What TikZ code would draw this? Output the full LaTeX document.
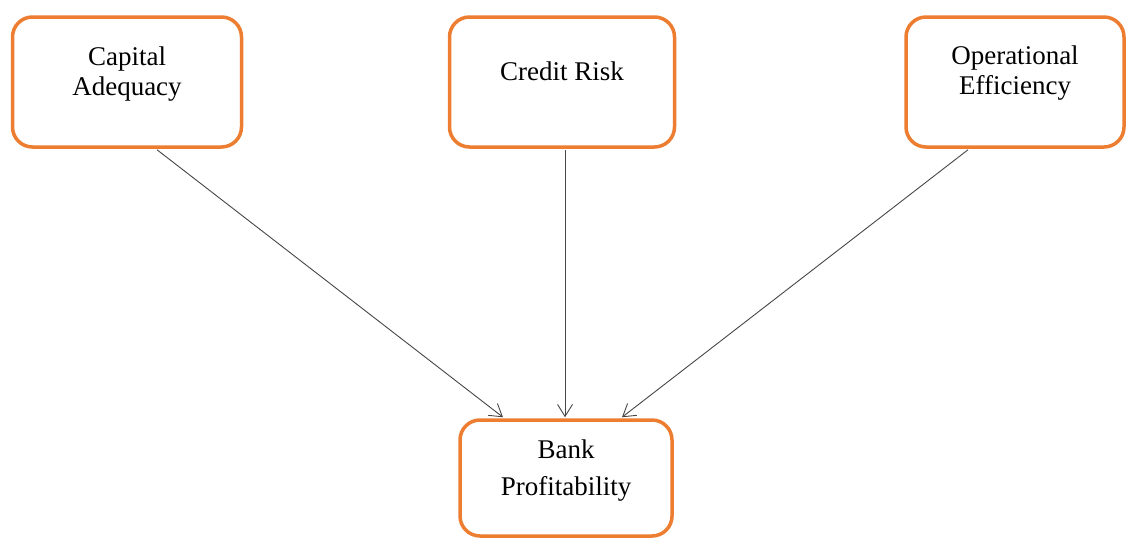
\documentclass[tikz,border=0pt]{standalone}
\usepackage{fontspec}
\setmainfont{Liberation Serif}
\usetikzlibrary{arrows.meta,calc}
\definecolor{boxorange}{RGB}{237,125,49}
\definecolor{arrowgray}{RGB}{70,70,70}
\tikzset{
  factorbox/.style={draw=boxorange, line width=3.5pt, rounded corners=20pt,
    fill=white, inner sep=0pt},
  boxtext/.style={align=center, font=\fontsize{27}{30}\selectfont, inner sep=0pt},
  link/.style={draw=arrowgray, line width=0.9pt,
    -{Straight Barb[length=12pt,width=15pt,line width=0.9pt]}}
}
\begin{document}
\begin{tikzpicture}[x=1pt,y=-1pt]
\useasboundingbox (0,0) rectangle (1127,538);

% top row: the three factors
\node[factorbox, minimum width=229pt, minimum height=130pt] (cap) at (127,82) {};
\node[boxtext] (captext) at (127,74) {Capital\\Adequacy};

\node[factorbox, minimum width=225pt, minimum height=130pt] (cred) at (562,82) {};
\node[boxtext] (credtext) at (562,71) {Credit Risk};

\node[factorbox, minimum width=218pt, minimum height=130pt] (ops) at (1015,82) {};
\node[boxtext] (opstext) at (1015,73) {Operational\\Efficiency};

% bottom: the outcome
\node[factorbox, minimum width=212pt, minimum height=116pt] (bank) at (566,478) {};
\node[boxtext, font=\fontsize{27}{37}\selectfont] (banktext) at (566,471) {Bank\\Profitability};

% connectors from each factor into the outcome
\draw[link] ($(cap.south)+(30,1)$) -- ($(bank.north)+(-63,-1)$);
\draw[link] ($(cred.south)+(3,1)$) -- ($(bank.north)+(-1,-1)$);
\draw[link] ($(ops.south)+(-47,1)$) -- ($(bank.north)+(56,-1)$);
\end{tikzpicture}
\end{document}
